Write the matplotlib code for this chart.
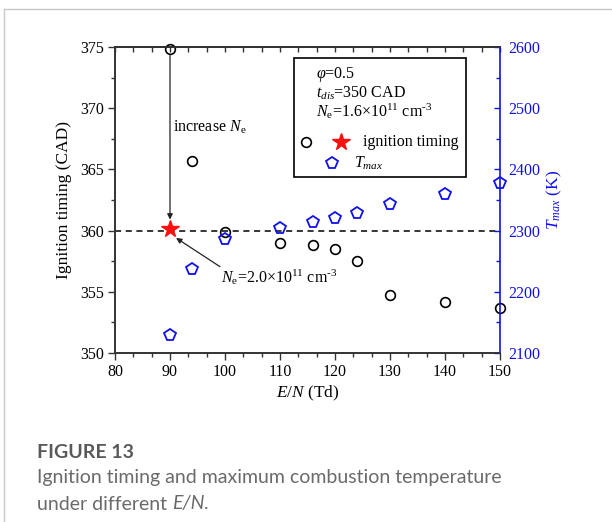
import matplotlib
matplotlib.use("Agg")
import matplotlib.pyplot as plt
from matplotlib.ticker import MultipleLocator, AutoMinorLocator
from matplotlib.patches import Rectangle
from matplotlib.lines import Line2D

plt.rcParams['font.family'] = ['Liberation Serif', 'DejaVu Serif']
plt.rcParams['mathtext.fontset'] = 'custom'
plt.rcParams['mathtext.rm'] = 'Liberation Serif'
plt.rcParams['mathtext.it'] = 'Liberation Serif:italic'
plt.rcParams['mathtext.bf'] = 'Liberation Serif:bold'

# data
en_ign = [90, 94, 100, 110, 116, 120, 124, 130, 140, 150]
ign_timing = [374.8, 365.7, 359.9, 359.0, 358.8, 358.5, 357.5, 354.7, 354.2, 353.7]
en_t = [90, 94, 100, 110, 116, 120, 124, 130, 140, 150]
t_max = [2129, 2238, 2287, 2305, 2314, 2320, 2329, 2343, 2360, 2378]
star_x = [90]
star_y = [360.1]
ref_line = 360

BLUE = '#1010ee'
SPINE = '#333333'
FS = 11.5

fig = plt.figure(figsize=(6.12, 5.22), dpi=100)
W, H = 612, 522
ax = fig.add_axes([115 / W, 1 - 353 / H, 385 / W, 306 / H])
ax2 = ax.twinx()

# page frame
fig.add_artist(Line2D([4 / W, 4 / W], [0, 1 - 9 / H], color='#c8c8c8', lw=1))
fig.add_artist(Line2D([4 / W, 1], [1 - 9 / H, 1 - 9 / H], color='#c8c8c8', lw=1))

ax.plot(en_ign, ign_timing, 'o', mfc='none', mec='k', ms=7, mew=1.2, clip_on=False, zorder=3)
ax.axhline(ref_line, color='k', lw=1.1, ls=(0, (4, 3)), zorder=2)
ax.plot(star_x, star_y, '*', color='#ff1010', ms=13, mec='#ff1010', zorder=4, clip_on=False)
ax2.plot(en_t, t_max, 'p', mfc='none', mec=BLUE, ms=8.5, mew=1.3, clip_on=False, zorder=3)

ax.set_xlim(80, 150)
ax.set_ylim(350, 375)
ax2.set_ylim(2100, 2600)

ax.xaxis.set_major_locator(MultipleLocator(10))
ax.xaxis.set_minor_locator(AutoMinorLocator(3))
ax.yaxis.set_major_locator(MultipleLocator(5))
ax.yaxis.set_minor_locator(AutoMinorLocator(2))
ax2.yaxis.set_major_locator(MultipleLocator(100))
ax2.yaxis.set_minor_locator(AutoMinorLocator(2))

ax.tick_params(axis='x', which='both', direction='out', top=False, labelsize=FS, color=SPINE, pad=3)
ax.tick_params(axis='x', which='major', length=5, width=1)
ax.tick_params(axis='x', which='minor', length=3, width=1)
ax.tick_params(axis='y', which='both', direction='out', right=False, labelsize=FS, color=SPINE, pad=3)
ax.tick_params(axis='y', which='major', length=5, width=1)
ax.tick_params(axis='y', which='minor', length=3, width=1)

top = ax.secondary_xaxis('top')
top.xaxis.set_major_locator(MultipleLocator(10))
top.xaxis.set_minor_locator(AutoMinorLocator(3))
top.tick_params(axis='x', which='both', direction='in', length=3.5, width=1, color=SPINE, labeltop=False)
top.spines['top'].set_color(SPINE)
top.spines['top'].set_linewidth(1.2)

ax2.tick_params(axis='y', which='both', direction='in', colors=BLUE, labelsize=FS, pad=6)
ax2.tick_params(axis='y', which='major', length=4, width=1)
ax2.tick_params(axis='y', which='minor', length=3, width=1)

for s in ['left', 'bottom', 'top']:
    ax.spines[s].set_color(SPINE)
    ax.spines[s].set_linewidth(1.2)
    ax2.spines[s].set_color(SPINE)
    ax2.spines[s].set_linewidth(1.2)
ax2.spines['right'].set_color(BLUE)
ax2.spines['right'].set_linewidth(1.2)
ax.spines['right'].set_visible(False)

ax.set_xlabel(r'$E/N$ (Td)', fontsize=12.5, labelpad=3)
ax.set_ylabel('Ignition timing (CAD)', fontsize=12.5, labelpad=6)
ax2.set_ylabel(r'$T_{max}$ (K)', fontsize=12.5, color=BLUE, labelpad=3)

# annotations
ax.annotate('', xy=(90, 360.9), xytext=(90, 374.3),
            arrowprops=dict(arrowstyle='-|>', color='#222222', lw=0.9, mutation_scale=8,
                            shrinkA=0, shrinkB=0), zorder=3)
ax.text(90.5, 368.4, r'increase $N_{\rm e}$', fontsize=FS, va='center', ha='left')
ax.annotate('', xy=(91.1, 359.4), xytext=(99.1, 357.05),
            arrowprops=dict(arrowstyle='-|>', color='#222222', lw=0.9, mutation_scale=8,
                            shrinkA=0, shrinkB=0), zorder=3)
ax.text(99.2, 356.2, r'$N_{\rm e}$=2.0×10$^{11}$ cm$^{\text{-3}}$', fontsize=FS, va='center', ha='left')

# legend box drawn by hand (layout of the original)
tr = ax2.transAxes
ax2.add_patch(Rectangle((0.465, 0.575), 0.447, 0.389, transform=tr, fill=False,
                        ec='k', lw=1.2, zorder=5, clip_on=False))
ax2.text(0.521, 0.911, r'$\varphi$=0.5', transform=tr, fontsize=FS, va='center', zorder=6)
ax2.text(0.521, 0.850, r'$t_{dis}$=350 CAD', transform=tr, fontsize=FS, va='center', zorder=6)
ax2.text(0.521, 0.789, r'$N_{\rm e}$=1.6×10$^{11}$ cm$^{\text{-3}}$', transform=tr, fontsize=FS,
         va='center', zorder=6)
ax2.plot([0.496], [0.689], 'o', mfc='none', mec='k', ms=7, mew=1.2, transform=tr, zorder=6, clip_on=False)
ax2.plot([0.586], [0.689], '*', color='#ff1010', ms=13, transform=tr, zorder=6, clip_on=False)
ax2.text(0.643, 0.689, 'ignition timing', transform=tr, fontsize=FS, va='center', zorder=6)
ax2.plot([0.563], [0.620], 'p', mfc='none', mec=BLUE, ms=8.5, mew=1.3, transform=tr, zorder=6, clip_on=False)
ax2.text(0.621, 0.620, r'$T_{max}$', transform=tr, fontsize=FS, va='center', zorder=6)

# caption
CAP = ['Lato', 'DejaVu Sans']
CAP_FS = 14
fig.text(37 / W, 1 - 452 / H, 'FIGURE 13', family=CAP, fontsize=CAP_FS, weight='bold',
         color='#595959', va='center')
fig.text(37 / W, 1 - 478 / H, 'Ignition timing and maximum combustion temperature',
         family=CAP, fontsize=CAP_FS, color='#6a6a6a', va='center')
t1 = fig.text(37 / W, 1 - 504 / H, 'under different', family=CAP, fontsize=CAP_FS,
              color='#6a6a6a', va='center')
ax.annotate('E/N.', xy=(1, 0.5), xycoords=t1, xytext=(3.5, 0), textcoords='offset points',
            family=CAP, fontsize=CAP_FS, style='italic', color='#6a6a6a', va='center',
            annotation_clip=False)

fig.savefig('out.png', dpi=100)
